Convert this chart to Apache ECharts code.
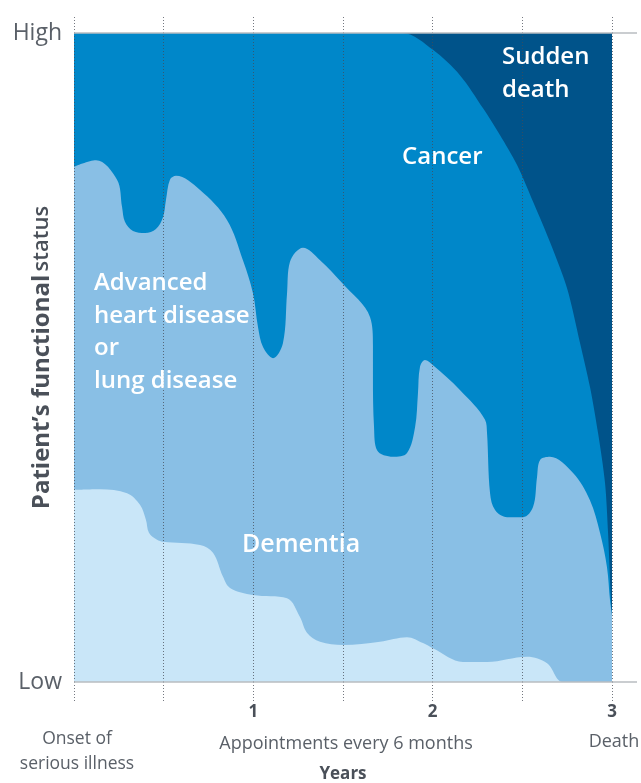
<!DOCTYPE html>
<html>
<head>
<meta charset="utf-8">
<script src="https://cdn.jsdelivr.net/npm/echarts@6/dist/echarts.min.js"></script>
<style>
  html, body { margin: 0; padding: 0; background: #fff; }
  #chart { width: 641px; height: 783px; }
</style>
</head>
<body>
<div id="chart"></div>
<script>
// x = years since onset, y = functional status (0 = low, 100 = high)
const suddenDeath = [[0, 100], [3, 100]];

const cancer = [
  [0, 100], [1.0, 100], [1.835, 100], [2.002, 97.4], [2.152, 93.5], [2.281, 88.4],
  [2.375, 84.3], [2.47, 79.7], [2.56, 74.0], [2.654, 67.8], [2.749, 60.7], [2.822, 52.2],
  [2.877, 45.5], [2.922, 38.4], [2.961, 30.7], [2.978, 23.0], [2.994, 12.6], [3.0, 10.3]
];

const heartLung = [
  [0, 79.4], [0.123, 80.4], [0.24, 77.4], [0.268, 73.2], [0.284, 70.9], [0.329, 69.5],
  [0.396, 69.2], [0.457, 69.8], [0.496, 71.6], [0.513, 74.3], [0.535, 77.4], [0.569, 78.0],
  [0.703, 75.8], [0.853, 71.2], [0.942, 65.0], [0.998, 59.9], [1.026, 54.7], [1.054, 51.6],
  [1.11, 49.9], [1.165, 52.2], [1.188, 59.9], [1.204, 64.7], [1.277, 66.9], [1.372, 65.0],
  [1.494, 61.5], [1.651, 56.2], [1.667, 51.9], [1.667, 47.0], [1.673, 39.3], [1.69, 35.7],
  [1.779, 34.7], [1.857, 35.3], [1.902, 39.3], [1.918, 44.5], [1.929, 48.5], [1.957, 49.6],
  [2.002, 48.8], [2.152, 45.0], [2.292, 40.4], [2.303, 38.4], [2.32, 29.1], [2.348, 26.5],
  [2.415, 25.4], [2.504, 25.4], [2.56, 27.0], [2.582, 31.6], [2.599, 34.2], [2.654, 34.7],
  [2.783, 32.2], [2.877, 28.0], [2.933, 23.0], [2.972, 17.7], [2.989, 12.6], [3.0, 10.3]
];

const dementia = [
  [0, 29.6], [0.145, 29.7], [0.296, 29.1], [0.368, 27.3], [0.401, 25.0], [0.418, 23.0],
  [0.463, 21.9], [0.496, 21.6], [0.703, 21.1], [0.775, 19.9], [0.831, 16.2], [0.87, 14.5],
  [0.998, 13.4], [1.188, 12.9], [1.26, 10.0], [1.299, 7.6], [1.372, 6.2], [1.5, 5.7],
  [1.706, 6.2], [1.857, 6.9], [1.946, 6.0], [2.002, 5.2], [2.169, 3.1], [2.303, 3.1],
  [2.526, 3.9], [2.638, 2.9], [2.727, 0], [3.0, 0]
];

const yTickLabels = { 0: 'Low', 100: 'High' };
const xTickLabels = { 1: '1', 2: '2', 3: '3' };

const colors = {
  sudden: '#00538a',
  cancer: '#0087c9',
  heart: '#89bfe5',
  dementia: '#c9e6f8'
};

const chart = echarts.init(document.getElementById('chart'));

const dotted = { color: 'rgba(70,75,85,0.75)', width: 1, type: [1, 2] };
const white = '#ffffff';
const grey = '#5a6068';
const dark = '#4a5059';
const labelFont = '"Open Sans", sans-serif';

function area(name, data, color, smooth) {
  return {
    name: name,
    type: 'line',
    data: data,
    smooth: smooth,
    symbol: 'none',
    lineStyle: { width: 0 },
    areaStyle: { color: color, opacity: 1 },
    silent: true
  };
}

const option = {
  animation: false,
  grid: { left: 74, right: 29, top: 33, bottom: 101, containLabel: false, outerBoundsMode: 'none' },
  xAxis: [
    {
      type: 'value', min: 0, max: 3, interval: 0.5, z: 10,
      name: 'Years', nameLocation: 'middle', nameGap: 84, nameMoveOverlap: false,
      nameTextStyle: { fontFamily: labelFont, fontWeight: 'bold', fontSize: 17, color: dark },
      axisLine: { show: false },
      axisTick: { show: true, length: 20, lineStyle: dotted },
      axisLabel: {
        margin: 22, fontFamily: labelFont, fontWeight: 'bold', fontSize: 17, color: dark,
        formatter: v => xTickLabels[v] || ''
      },
      splitLine: { show: true, lineStyle: dotted }
    },
    {
      type: 'value', min: 0, max: 3, interval: 0.5, position: 'top', z: 10,
      axisLine: { show: false },
      axisTick: { show: true, length: 16, lineStyle: dotted },
      axisLabel: { show: false },
      splitLine: { show: false }
    }
  ],
  yAxis: {
    type: 'value', min: 0, max: 100, interval: 100,
    name: '{a|Patient’s functional} {b|status}', nameLocation: 'middle', nameGap: 20,
    nameRotate: 90, nameMoveOverlap: false,
    nameTextStyle: {
      color: dark,
      rich: {
        a: { fontFamily: labelFont, fontWeight: 'bold', fontSize: 24, color: dark },
        b: { fontFamily: labelFont, fontWeight: 600, fontSize: 22, color: dark }
      }
    },
    axisLine: { show: false },
    axisTick: { show: false },
    splitLine: { show: false },
    axisLabel: {
      margin: 12, fontFamily: labelFont, fontSize: 23, color: grey, padding: [0, 0, 6, 0],
      formatter: v => yTickLabels[v] || ''
    }
  },
  graphic: [
    { type: 'line', z: 100, shape: { x1: 74, y1: 33, x2: 637, y2: 33 }, style: { stroke: '#b8bcc1', lineWidth: 1.5 } },
    { type: 'line', z: 100, shape: { x1: 74, y1: 682, x2: 637, y2: 682 }, style: { stroke: '#b8bcc1', lineWidth: 1.5 } },
    { type: 'text', z: 100, left: 502, top: 41, style: { text: 'Sudden\ndeath', fill: white, font: '600 24px ' + labelFont, lineHeight: 33 } },
    { type: 'text', z: 100, left: 402, top: 145, style: { text: 'Cancer', fill: white, font: '600 24px ' + labelFont } },
    { type: 'text', z: 100, left: 94, top: 267, style: { text: 'Advanced\nheart disease\nor\nlung disease', fill: white, font: '600 24px ' + labelFont, lineHeight: 32.5 } },
    { type: 'text', z: 100, left: 242, top: 532, style: { text: 'Dementia', fill: white, font: '600 25px ' + labelFont } },
    { type: 'text', z: 100, x: 77, y: 752, style: { text: 'Onset of\nserious illness', fill: grey, font: '17.5px ' + labelFont, align: 'center', verticalAlign: 'middle', lineHeight: 25 } },
    { type: 'text', z: 100, x: 346, y: 744, style: { text: 'Appointments every 6 months', fill: grey, font: '18px ' + labelFont, align: 'center', verticalAlign: 'middle' } },
    { type: 'text', z: 100, x: 614, y: 742, style: { text: 'Death', fill: grey, font: '18px ' + labelFont, align: 'center', verticalAlign: 'middle' } }
  ],
  series: [
    area('Sudden death', suddenDeath, colors.sudden, false),
    area('Cancer', cancer, colors.cancer, 0.3),
    area('Advanced heart disease or lung disease', heartLung, colors.heart, 0.35),
    area('Dementia', dementia, colors.dementia, 0.35)
  ]
};

chart.setOption(option);
</script>
</body>
</html>
